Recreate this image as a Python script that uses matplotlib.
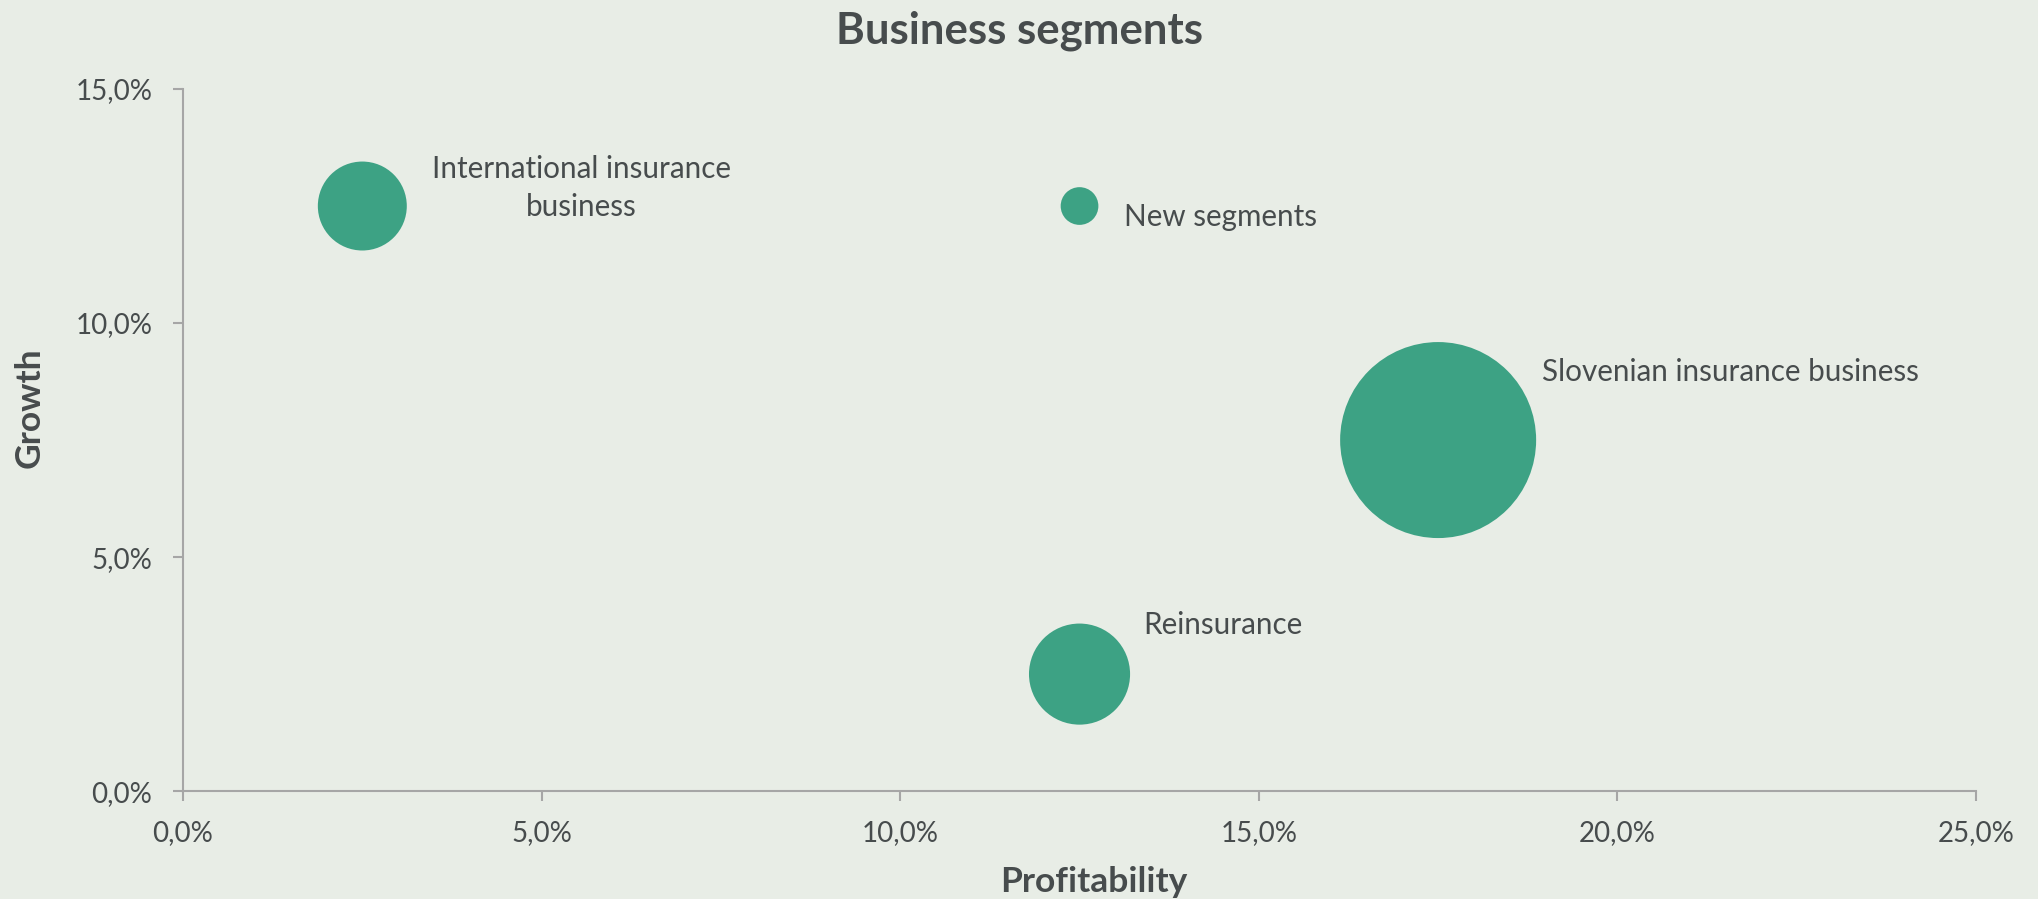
import numpy as np
import matplotlib
matplotlib.use('Agg')
from matplotlib import pyplot as plt
from matplotlib.ticker import FuncFormatter, MultipleLocator

# data (percent)
segments = ['International insurance\nbusiness', 'New segments',
            'Slovenian insurance business', 'Reinsurance']
profitability = [2.5, 12.5, 17.5, 12.5]
growth = [12.5, 12.5, 7.5, 2.5]
bubble_size = [20.6, 3.7, 100.0, 26.6]  # relative bubble area

BG = '#E8EDE6'
GREEN = '#3DA284'
TEXT = '#474C4D'
AXIS = '#A6A6A6'

plt.rcParams['font.family'] = ['Lato', 'DejaVu Sans']

fig = plt.figure(figsize=(20.38, 8.99), dpi=100, facecolor=BG)
ax = fig.add_axes([0.0898, 0.12, 0.8798, 0.781], facecolor=BG)

# largest bubble ~196 px across
max_d_pt = 196 * 72 / 100
sizes = [(max_d_pt * np.sqrt(s / max(bubble_size))) ** 2 for s in bubble_size]
ax.scatter(profitability, growth, s=sizes, color=GREEN, linewidths=0, zorder=3)

# label offsets in pixels from bubble centre
offsets = [(219, 18, 'center'), (44, -11, 'left'), (104, 68, 'left'), (64, 49, 'left')]
for name, x, y, (dx, dy, ha) in zip(segments, profitability, growth, offsets):
    ax.annotate(name, (x, y), xytext=(dx, dy), textcoords='offset pixels',
                ha=ha, va='center', fontsize=21.3, color=TEXT, linespacing=1.45)

ax.set_xlim(0, 25)
ax.set_ylim(0, 15)
ax.xaxis.set_major_locator(MultipleLocator(5))
ax.yaxis.set_major_locator(MultipleLocator(5))
pct = FuncFormatter(lambda v, p: f'{v:.1f}%'.replace('.', ','))
ax.xaxis.set_major_formatter(pct)
ax.yaxis.set_major_formatter(pct)

for side in ['top', 'right']:
    ax.spines[side].set_visible(False)
for side in ['left', 'bottom']:
    ax.spines[side].set_color(AXIS)
    ax.spines[side].set_linewidth(1.5)
ax.tick_params(axis='both', direction='out', length=7, width=1.5, color=AXIS,
               labelsize=20, labelcolor=TEXT)
ax.tick_params(axis='x', pad=14)
ax.tick_params(axis='y', pad=15)

xl = ax.set_xlabel('Profitability', fontsize=25.5, fontweight='bold', color=TEXT, va='center')
yl = ax.set_ylabel('Growth', fontsize=25.5, fontweight='bold', color=TEXT, va='center')
ax.xaxis.set_label_coords(0.508, -0.13)
ax.yaxis.set_label_coords(-0.0853, 0.546)
fig.suptitle('Business segments', fontsize=31.5, fontweight='bold', color=TEXT, y=0.988)

fig.savefig('out.png', dpi=100, facecolor=BG)
